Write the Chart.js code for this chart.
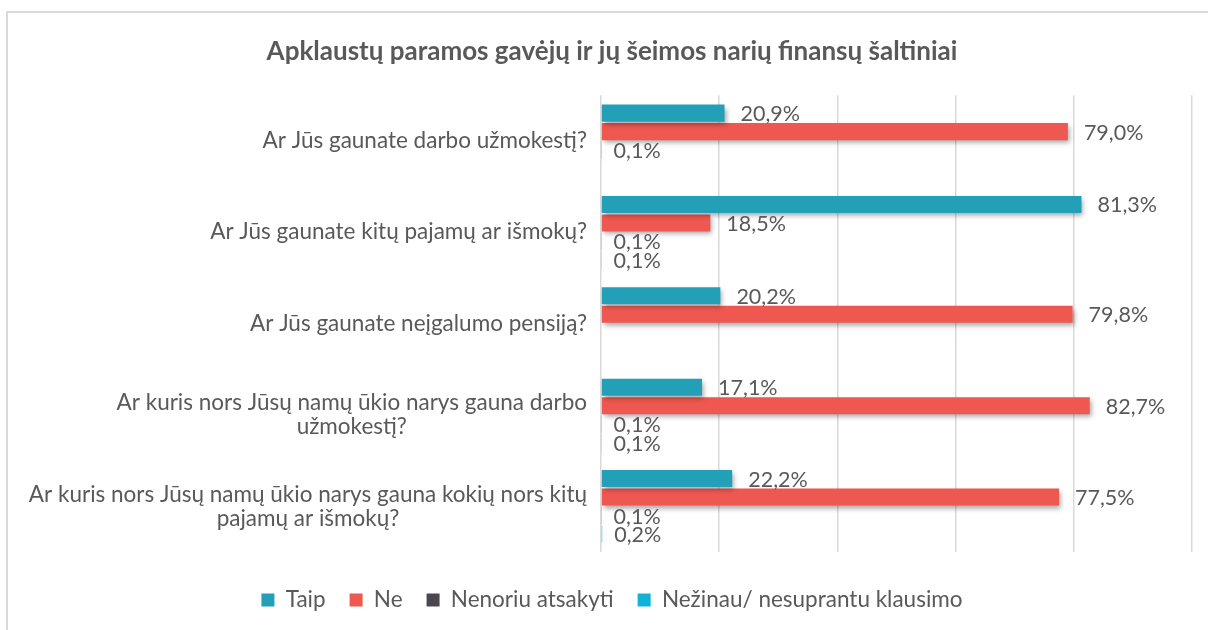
<!DOCTYPE html>
<html>
<head>
<meta charset="utf-8">
<script src="https://cdn.jsdelivr.net/npm/chart.js@4.4.1/dist/chart.umd.min.js"></script>
<style>
  html, body { margin: 0; padding: 0; background: #fff; overflow: hidden; }
  #wrap { position: relative; width: 1208px; height: 630px; }
  #frame {
    position: absolute; left: 6px; top: 11px; width: 1300px; height: 700px;
    border-top: 2px solid #d9d9d9; border-left: 2px solid #d9d9d9;
  }
  #chart { position: absolute; left: 0; top: 0; }
</style>
</head>
<body>
<div id="wrap">
  <div id="frame"></div>
  <canvas id="chart" width="1208" height="630"></canvas>
</div>
<script>
const categories = [
  'Ar Jūs gaunate darbo užmokestį?',
  'Ar Jūs gaunate kitų pajamų ar išmokų?',
  'Ar Jūs gaunate neįgalumo pensiją?',
  ['Ar kuris nors Jūsų namų ūkio narys gauna darbo', 'užmokestį?'],
  ['Ar kuris nors Jūsų namų ūkio narys gauna kokių nors kitų', 'pajamų ar išmokų?']
];
const taip = [20.9, 81.3, 20.2, 17.1, 22.2];
const ne = [79.0, 18.5, 79.8, 82.7, 77.5];
const nenoriu = [0.1, 0.1, null, 0.1, 0.1];
const nezinau = [null, 0.1, null, 0.1, 0.2];

const textColor = '#595959';
const fontFamily = 'Lato, "Open Sans", sans-serif';

function fmt(v) {
  return v.toFixed(1).replace('.', ',') + '%';
}

// category names on the left: lines of one label centred on each other,
// the whole block right-aligned against the plot
const categoryLabels = {
  id: 'categoryLabels',
  afterDraw(chart) {
    const ctx = chart.ctx;
    const yScale = chart.scales.y;
    const right = chart.chartArea.left - 14;
    const lineH = 24;
    ctx.save();
    ctx.font = '22.5px ' + fontFamily;
    ctx.fillStyle = textColor;
    ctx.textAlign = 'center';
    ctx.textBaseline = 'middle';
    chart.data.labels.forEach((label, i) => {
      const lines = Array.isArray(label) ? label : [label];
      const w = Math.max(...lines.map(l => ctx.measureText(l).width));
      const cx = right - w / 2;
      const cy = yScale.getPixelForValue(i);
      lines.forEach((l, k) => {
        ctx.fillText(l, cx, cy + (k - (lines.length - 1) / 2) * lineH);
      });
    });
    ctx.restore();
  }
};

// soft shadow under the bars, then value labels past the bar ends
const barExtras = {
  id: 'barExtras',
  beforeDatasetsDraw(chart) {
    const ctx = chart.ctx;
    ctx.save();
    ctx.shadowColor = 'rgba(0,0,0,0.35)';
    ctx.shadowBlur = 5;
    ctx.shadowOffsetX = 2;
    ctx.shadowOffsetY = 3;
  },
  afterDatasetsDraw(chart) {
    const ctx = chart.ctx;
    ctx.restore();
    ctx.save();
    ctx.font = '21.5px ' + fontFamily;
    ctx.fillStyle = textColor;
    ctx.textAlign = 'left';
    ctx.textBaseline = 'middle';
    chart.data.datasets.forEach((ds, di) => {
      const meta = chart.getDatasetMeta(di);
      meta.data.forEach((bar, i) => {
        const v = ds.data[i];
        if (v === null || v === undefined) return;
        const gap = v < 1 ? 12 : 16;
        ctx.fillText(fmt(v), bar.x + gap, bar.y + 1);
      });
    });
    ctx.restore();
  }
};

const ctx = document.getElementById('chart').getContext('2d');
new Chart(ctx, {
  type: 'bar',
  data: {
    labels: categories,
    datasets: [
      { label: 'Taip', data: taip, backgroundColor: '#23a0b8' },
      { label: 'Ne', data: ne, backgroundColor: '#ef5850' },
      { label: 'Nenoriu atsakyti', data: nenoriu, backgroundColor: '#4a4751' },
      { label: 'Nežinau/ nesuprantu klausimo', data: nezinau, backgroundColor: '#10b3d6' }
    ]
  },
  options: {
    indexAxis: 'y',
    responsive: false,
    animation: false,
    datasets: {
      bar: { categoryPercentage: 0.81, barPercentage: 0.92, borderWidth: 0 }
    },
    layout: { padding: { left: 32, right: 16, top: 0, bottom: 8.75 } },
    scales: {
      x: {
        min: 0,
        max: 100,
        ticks: { display: false, stepSize: 20 },
        grid: { color: '#d9d9d9', lineWidth: 1.5, drawTicks: false },
        border: { display: false },
        afterFit(scale) { scale.height = 12.75; }
      },
      y: {
        ticks: { display: false },
        grid: { display: false },
        border: { display: false },
        afterFit(scale) { scale.width = 569; }
      }
    },
    plugins: {
      title: {
        display: true,
        text: 'Apklaustų paramos gavėjų ir jų šeimos narių finansų šaltiniai',
        color: textColor,
        font: { family: fontFamily, size: 26, weight: 'bold' },
        padding: { top: 36.5, bottom: 27.5 }
      },
      legend: {
        position: 'bottom',
        labels: {
          color: textColor,
          font: { family: fontFamily, size: 22.5 },
          boxWidth: 13,
          boxHeight: 13,
          padding: 24
        }
      },
      tooltip: { enabled: false }
    }
  },
  plugins: [categoryLabels, barExtras]
});
</script>
</body>
</html>
